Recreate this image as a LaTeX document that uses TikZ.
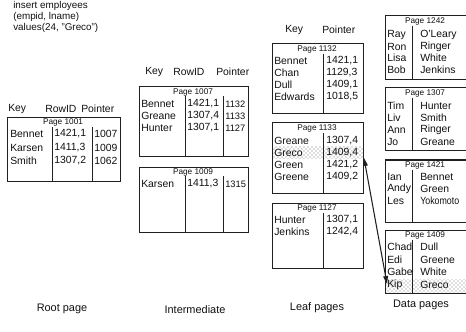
\documentclass[tikz,border=0pt]{standalone}
\usepackage{fontspec}
\setmainfont{Liberation Sans}
\usetikzlibrary{arrows.meta,patterns}
\definecolor{IXLine}{HTML}{202020}
\definecolor{IXText}{HTML}{101010}

\begin{document}
\begin{tikzpicture}[x=0.75pt,y=-0.75pt,
  cell/.style={anchor=west,inner sep=0pt,text=IXText,font=\fontsize{7.8}{9}\selectfont},
  ptr/.style={cell,font=\fontsize{7}{9}\selectfont},
  ttl/.style={inner sep=0pt,text=IXText,font=\fontsize{6.2}{7}\selectfont},
  lbl/.style={inner sep=0pt,text=IXText,font=\fontsize{8.2}{9}\selectfont},
  page/.style={IXLine,line width=.75pt},
  hit/.style={pattern=crosshatch dots,pattern color=black!55}]
\path[use as bounding box] (0,0) rectangle (466,331);
% statement
\node[cell,font=\fontsize{7.4}{8}\selectfont] (sql1) at (13,6) {insert employees};
\node[cell,font=\fontsize{7.4}{8}\selectfont] (sql2) at (13,17) {(empid, lname)};
\node[cell,font=\fontsize{7.4}{8}\selectfont] (sql3) at (13,28) {values(24, "Greco")};
% root page
\node[cell] (rkey) at (8,109) {Key};
\node[cell] (rrid) at (45,109) {RowID};
\node[cell] (rptr) at (81,109) {Pointer};
\draw[page] (7,118) rectangle (120,181);
\node[ttl] (p1001) at (63,122) {Page 1001};
\draw[page] (52,127) -- (52,181);
\draw[page] (92,127) -- (92,181);
\node[cell] (r1k) at (10,134) {Bennet};  \node[cell] (r1r) at (54,134) {1421,1}; \node[cell] (r1p) at (94,134) {1007};
\node[cell] (r2k) at (10,148) {Karsen};  \node[cell] (r2r) at (54,148) {1411,3}; \node[cell] (r2p) at (94,148) {1009};
\node[cell] (r3k) at (10,161) {Smith};   \node[cell] (r3r) at (54,161) {1307,2}; \node[cell] (r3p) at (94,161) {1062};
% intermediate pages
\node[cell] (ikey) at (145,72) {Key};
\node[cell] (irid) at (173,72) {RowID};
\node[cell] (iptr) at (216,72) {Pointer};
\draw[page] (139,87) rectangle (248,157);
\node[ttl] (p1007) at (193,92) {Page 1007};
\draw[page] (185,96) -- (185,157);
\draw[page] (223,96) -- (223,157);
\node[cell] (a1k) at (141,104) {Bennet}; \node[cell] (a1r) at (187,104) {1421,1}; \node[ptr] (a1p) at (225,104) {1132};
\node[cell] (a2k) at (141,116) {Greane}; \node[cell] (a2r) at (187,116) {1307,4}; \node[ptr] (a2p) at (225,116) {1133};
\node[cell] (a3k) at (141,128) {Hunter}; \node[cell] (a3r) at (187,128) {1307,1}; \node[ptr] (a3p) at (225,128) {1127};
\draw[page] (139,167) rectangle (248,232);
\node[ttl] (p1009) at (193,172) {Page 1009};
\draw[page] (185,176) -- (185,232);
\draw[page] (223,176) -- (223,232);
\node[cell] (b1k) at (141,184) {Karsen}; \node[cell] (b1r) at (187,184) {1411,3}; \node[ptr] (b1p) at (225,184) {1315};
% leaf pages
\node[cell] (lkey) at (285,30) {Key};
\node[cell] (lptr) at (322,30) {Pointer};
\draw[page] (272,44) rectangle (363,114);
\node[ttl] (p1132) at (317,49) {Page 1132};
\draw[page] (323,54) -- (323,114);
\node[cell] (c1k) at (274,61) {Bennet};  \node[cell] (c1p) at (326,61) {1421,1};
\node[cell] (c2k) at (274,73) {Chan};    \node[cell] (c2p) at (326,73) {1129,3};
\node[cell] (c3k) at (274,85) {Dull};    \node[cell] (c3p) at (326,85) {1409,1};
\node[cell] (c4k) at (274,97) {Edwards}; \node[cell] (c4p) at (326,97) {1018,5};
\fill[hit] (272,147) rectangle (363,159);
\draw[page] (272,123) rectangle (363,193);
\node[ttl] (p1133) at (317,128) {Page 1133};
\draw[page] (323,133) -- (323,193);
\node[cell] (d1k) at (274,141) {Greane}; \node[cell] (d1p) at (326,141) {1307,4};
\node[cell] (d2k) at (274,153) {Greco};  \node[cell] (d2p) at (326,153) {1409,4};
\node[cell] (d3k) at (274,165) {Green};  \node[cell] (d3p) at (326,165) {1421,2};
\node[cell] (d4k) at (274,177) {Greene}; \node[cell] (d4p) at (326,177) {1409,2};
\draw[page] (272,203) rectangle (363,268);
\node[ttl] (p1127) at (317,208) {Page 1127};
\draw[page] (323,213) -- (323,268);
\node[cell] (e1k) at (274,220) {Hunter};  \node[cell] (e1p) at (326,220) {1307,1};
\node[cell] (e2k) at (274,232) {Jenkins}; \node[cell] (e2p) at (326,232) {1242,4};
% data pages
\draw[page] (385,16) rectangle (468,80);
\node[ttl] (p1242) at (425,21) {Page 1242};
\draw[page] (412,26) -- (412,80);
\node[cell] (f1k) at (387,35) {Ray};  \node[cell] (f1v) at (420,35) {O'Leary};
\node[cell] (f2k) at (387,47) {Ron};  \node[cell] (f2v) at (420,47) {Ringer};
\node[cell] (f3k) at (387,58) {Lisa}; \node[cell] (f3v) at (420,58) {White};
\node[cell] (f4k) at (387,70) {Bob};  \node[cell] (f4v) at (420,70) {Jenkins};
\draw[page] (385,88) rectangle (468,151);
\node[ttl] (p1307) at (425,93) {Page 1307};
\draw[page] (412,98) -- (412,151);
\node[cell] (g1k) at (387,106) {Tim}; \node[cell] (g1v) at (420,106) {Hunter};
\node[cell] (g2k) at (387,118) {Liv}; \node[cell] (g2v) at (420,118) {Smith};
\node[cell] (g3k) at (387,130) {Ann}; \node[cell] (g3v) at (420,130) {Ringer};
\node[cell] (g4k) at (387,142) {Jo};  \node[cell] (g4v) at (420,142) {Greane};
\draw[page] (385,160) rectangle (468,222);
\node[ttl] (p1421) at (425,165) {Page 1421};
\draw[page] (412,170) -- (412,222);
\node[cell] (h1k) at (387,177) {Ian};  \node[cell] (h1v) at (420,177) {Bennet};
\node[cell] (h2k) at (387,189) {Andy}; \node[cell] (h2v) at (420,189) {Green};
\node[cell] (h3k) at (387,201) {Les};  \node[cell] (h3v) at (420,201) {\scalebox{0.85}[1]{Yokomoto}};
\fill[hit] (385,279) rectangle (468,292);
\draw[page] (385,230) rectangle (468,293);
\node[ttl] (p1409) at (425,235) {Page 1409};
\draw[page] (412,240) -- (412,293);
\node[cell] (k1k) at (387,247) {Chad}; \node[cell] (k1v) at (420,247) {Dull};
\node[cell] (k2k) at (387,260) {Edi};  \node[cell] (k2v) at (420,260) {Greene};
\node[cell] (k3k) at (387,272) {Gabe}; \node[cell] (k3v) at (420,272) {White};
\node[cell] (k4k) at (387,285) {Kip};  \node[cell] (k4v) at (420,285) {Greco};
% row pointer
\coordinate (greco) at (364,158);
\coordinate (kip) at (387,284);
\draw[IXLine,line width=.8pt,{Triangle[length=6pt,width=3.6pt]}-{Triangle[length=6pt,width=3.6pt]}] (greco) -- (kip);
% level captions
\node[lbl] (cap1) at (62,309) {Root page};
\node[lbl] (cap2) at (195,310) {Intermediate};
\node[lbl] (cap3) at (317,308) {Leaf pages};
\node[lbl] (cap4) at (421,305) {Data pages};
\end{tikzpicture}
\end{document}
